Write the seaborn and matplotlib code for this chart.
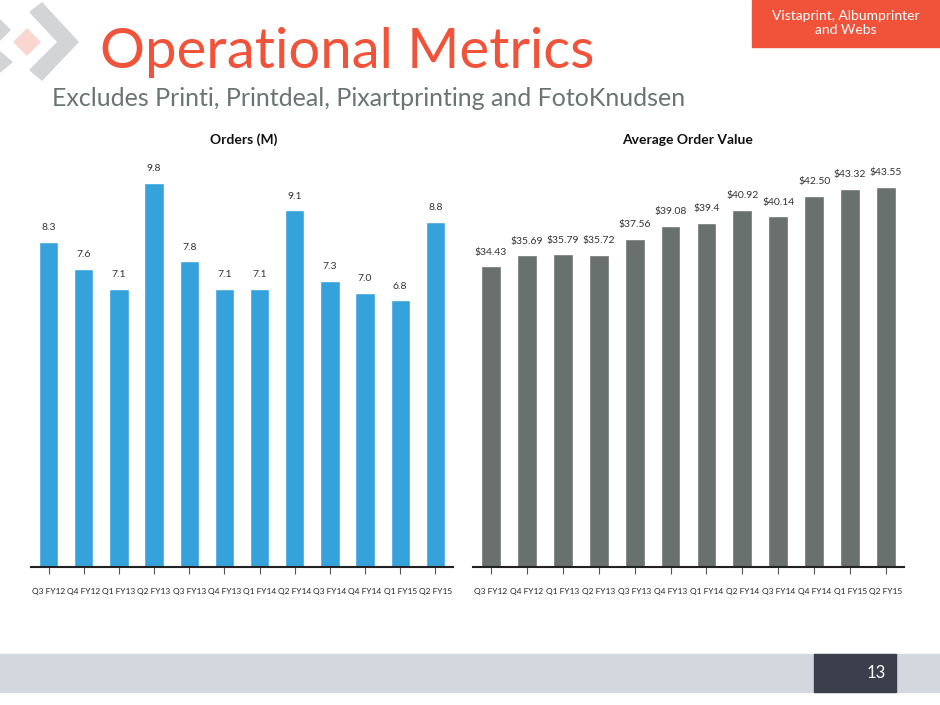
import matplotlib
matplotlib.use("Agg")
import matplotlib.pyplot as plt
from matplotlib.patches import Rectangle, Polygon
import seaborn as sns
import pandas as pd

quarters = ["Q3 FY12", "Q4 FY12", "Q1 FY13", "Q2 FY13", "Q3 FY13", "Q4 FY13",
            "Q1 FY14", "Q2 FY14", "Q3 FY14", "Q4 FY14", "Q1 FY15", "Q2 FY15"]
orders = [8.3, 7.6, 7.1, 9.8, 7.8, 7.1, 7.1, 9.1, 7.3, 7.0, 6.8, 8.8]
order_labels = ["8.3", "7.6", "7.1", "9.8", "7.8", "7.1", "7.1", "9.1", "7.3", "7.0", "6.8", "8.8"]
aov = [34.43, 35.69, 35.79, 35.72, 37.56, 39.08, 39.4, 40.92, 40.14, 42.50, 43.32, 43.55]
aov_labels = ["$34.43", "$35.69", "$35.79", "$35.72", "$37.56", "$39.08", "$39.4",
              "$40.92", "$40.14", "$42.50", "$43.32", "$43.55"]

sns.set_style("white")
plt.rcParams["font.family"] = ["Lato", "DejaVu Sans"]

fig = plt.figure(figsize=(9.4, 7.05), dpi=100)
W, H = 940, 705


def px(x, y, w, h):
    # pixel box (top-left origin) -> figure fraction
    return [x / W, 1 - (y + h) / H, w / W, h / H]


# header
fig.text(100 / W, 1 - 52 / H, "Operational Metrics", fontsize=40.5, color="#F05339",
         va="center", ha="left")
fig.text(52 / W, 1 - 98 / H, "Excludes Printi, Printdeal, Pixartprinting and FotoKnudsen",
         fontsize=18, color="#6A7473", va="center", ha="left")
fig.patches.append(Rectangle((752 / W, 1 - 47 / H), 188 / W, 47 / H,
                             transform=fig.transFigure, color="#F05339", zorder=0))
fig.text(846 / W, 1 - 23 / H, "Vistaprint, Albumprinter\nand Webs", fontsize=10,
         color="white", ha="center", va="center", linespacing=1.25)

# logo shapes
def poly(pts, color):
    fig.patches.append(Polygon([(x / W, 1 - y / H) for x, y in pts], closed=True,
                               transform=fig.transFigure, color=color, zorder=0))

poly([(30, 12), (42, 3), (78, 42), (42, 80), (30, 70), (58, 42)], "#D3D4D6")
poly([(0, 20), (10, 30), (0, 40)], "#D3D4D6")
poly([(0, 52), (12, 62), (0, 72)], "#D3D4D6")
poly([(14, 42), (27, 29), (40, 42), (27, 55)], "#F9D6D0")

# footer
fig.patches.append(Rectangle((0, 1 - 692 / H), 1, 38 / H, transform=fig.transFigure,
                             color="#D3D8DF", zorder=0))
fig.patches.append(Rectangle((814 / W, 1 - 692 / H), 82 / W, 38 / H,
                             transform=fig.transFigure, color="#3A3F4B", zorder=1))
fig.text(876 / W, 1 - 673 / H, "13", fontsize=12, color="white", ha="center", va="center")

axes_specs = [
    (px(31, 175, 422, 392), orders, order_labels, "#36A2DB", 10, "Orders (M)", 244),
    (px(473, 174, 431, 393), aov, aov_labels, "#68716E", 45, "Average Order Value", 688),
]

for rect, vals, labels, color, top, title, tx in axes_specs:
    ax = fig.add_axes(rect)
    df = pd.DataFrame({"quarter": quarters, "value": vals})
    sns.barplot(data=df, x="quarter", y="value", color=color, width=0.55,
                saturation=1, ax=ax)
    ax.set_ylim(0, top)
    ax.set_xlim(-0.5, 11.5)
    ax.set_xlabel("")
    ax.set_ylabel("")
    ax.set_yticks([])
    for s in ["top", "right", "left"]:
        ax.spines[s].set_visible(False)
    ax.spines["bottom"].set_color("#222222")
    ax.spines["bottom"].set_linewidth(1.5)
    ax.tick_params(axis="x", length=5, width=0.8, color="#555555", labelsize=6,
                   labelcolor="#222222", pad=10, bottom=True)
    for i, (v, lab) in enumerate(zip(vals, labels)):
        ax.annotate(lab, (i, v), xytext=(0, 7), textcoords="offset points",
                    ha="center", va="bottom", fontsize=7.5, color="#333333",
                    annotation_clip=False)
    fig.text(tx / W, 1 - 140 / H, title, fontsize=10, fontweight="bold",
             color="#111111", ha="center", va="center")

fig.savefig("out.png", dpi=100)
